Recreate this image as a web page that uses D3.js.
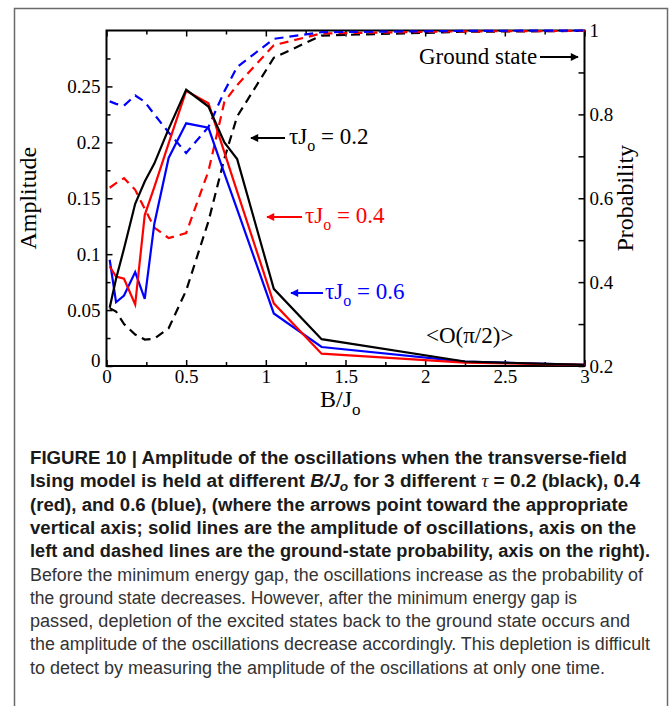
<!DOCTYPE html>
<head>
<meta charset="utf-8">
<title>Amplitude and ground state probability</title>
<script src="https://cdn.jsdelivr.net/npm/d3@7/dist/d3.min.js"></script>
<style>
  body { margin: 0; background: #fff; }
  svg { display: block; }
</style>
</head>
<body>
<div id="container"></div>
<script>

// B/Jo sample points shared by all series
const bField = [0.02, 0.06, 0.11, 0.18, 0.24, 0.3, 0.39, 0.5, 0.64, 0.74, 0.82, 1.05, 1.35, 2.25, 3];

// amplitude (left axis), solid lines
const ampTau02 = [0.052, 0.078, 0.105, 0.145, 0.165, 0.181, 0.212, 0.247, 0.232, 0.200, 0.185, 0.069, 0.024, 0.004, 0.001];
const ampTau04 = [0.089, 0.080, 0.078, 0.055, 0.135, 0.160, 0.199, 0.246, 0.235, 0.191, 0.156, 0.056, 0.011, 0.003, 0.001];
const ampTau06 = [0.095, 0.057, 0.063, 0.084, 0.060, 0.127, 0.186, 0.217, 0.213, 0.172, 0.140, 0.047, 0.017, 0.004, 0.001];

// ground state probability (right axis), dashed lines
const probTau02 = [0.338, 0.330, 0.300, 0.275, 0.263, 0.265, 0.290, 0.380, 0.545, 0.695, 0.795, 0.935, 0.988, 0.997, 0.999];
const probTau04 = [0.625, 0.636, 0.648, 0.620, 0.575, 0.530, 0.505, 0.517, 0.665, 0.830, 0.870, 0.965, 0.993, 0.998, 0.999];
const probTau06 = [0.831, 0.825, 0.821, 0.845, 0.830, 0.800, 0.757, 0.708, 0.770, 0.855, 0.913, 0.980, 0.996, 0.999, 1.000];

const xTicks = [0, 0.5, 1, 1.5, 2, 2.5, 3];
const ampTicks = [0, 0.05, 0.1, 0.15, 0.2, 0.25];
const probTicks = [0.2, 0.4, 0.6, 0.8, 1];

const captionBold = [
  "FIGURE 10 | Amplitude of the oscillations when the transverse-field",
  "Ising model is held at different B/Jo for 3 different τ = 0.2 (black), 0.4",
  "(red), and 0.6 (blue), (where the arrows point toward the appropriate",
  "vertical axis; solid lines are the amplitude of oscillations, axis on the",
  "left and dashed lines are the ground-state probability, axis on the right)."
];
const captionPlain = [
  "Before the minimum energy gap, the oscillations increase as the probability of",
  "the ground state decreases. However, after the minimum energy gap is",
  "passed, depletion of the excited states back to the ground state occurs and",
  "the amplitude of the oscillations decrease accordingly. This depletion is difficult",
  "to detect by measuring the amplitude of the oscillations at only one time."
];
// right ends of caption lines in the picture
const captionEnds = [627, 640, 628, 636, 650, 643, 577, 630, 650, 605];

function chart() {
  const width = 672, height = 706;
  const margin = {top: 30.5, right: 87.5, bottom: 340, left: 106.5};
  const serif = "'Liberation Serif', 'Times New Roman', serif";

  const svg = d3.select("#container").append("svg")
      .attr("width", width).attr("height", height);

  // frame round figure and caption
  svg.append("rect")
      .attr("x", 14.5).attr("y", 8.5).attr("width", 653).attr("height", 720)
      .attr("fill", "none").attr("stroke", "#6a6a6a").attr("stroke-width", 1.5);

  const x = d3.scaleLinear().domain([0, 3]).range([margin.left, width - margin.right]);
  const yAmp = d3.scaleLinear().domain([0, 0.3]).range([height - margin.bottom, margin.top]);
  const yProb = d3.scaleLinear().domain([0.2, 1]).range([height - margin.bottom, margin.top]);

  const styleAxis = g => g
    .call(g => g.select(".domain").remove())
    .call(g => g.selectAll(".tick line").attr("stroke", "#000").attr("stroke-width", 1.5))
    .call(g => g.selectAll(".tick text").attr("fill", "#000")
        .attr("font-family", serif).attr("font-size", 19));

  const bottom = height - margin.bottom, top = margin.top;
  const left = margin.left, right = width - margin.right;

  // bottom + top
  svg.append("g").attr("transform", `translate(0,${bottom})`)
    .call(d3.axisBottom(x).tickValues(xTicks).tickSize(-6).tickPadding(3).tickFormat(d3.format("")))
    .call(styleAxis);
  svg.append("g").attr("transform", `translate(0,${bottom})`)
    .call(d3.axisBottom(x).tickValues(d3.range(0.25, 3, 0.5)).tickSize(-4).tickFormat(""))
    .call(styleAxis);
  svg.append("g").attr("transform", `translate(0,${top})`)
    .call(d3.axisTop(x).tickValues(xTicks).tickSize(-6).tickFormat(""))
    .call(styleAxis);
  svg.append("g").attr("transform", `translate(0,${top})`)
    .call(d3.axisTop(x).tickValues(d3.range(0.25, 3, 0.5)).tickSize(-4).tickFormat(""))
    .call(styleAxis);

  // left
  svg.append("g").attr("transform", `translate(${left},0)`)
    .call(d3.axisLeft(yAmp).tickValues(ampTicks).tickSize(-6).tickPadding(6).tickFormat(d3.format("")))
    .call(styleAxis)
    .call(g => g.selectAll(".tick text").filter(d => d === 0).attr("dy", "0.05em"));
  svg.append("g").attr("transform", `translate(${left},0)`)
    .call(d3.axisLeft(yAmp).tickValues(d3.range(0.025, 0.3, 0.05)).tickSize(-4).tickFormat(""))
    .call(styleAxis);

  // right
  svg.append("g").attr("transform", `translate(${right},0)`)
    .call(d3.axisRight(yProb).tickValues(probTicks).tickSize(-6).tickPadding(5).tickFormat(d3.format("")))
    .call(styleAxis);
  svg.append("g").attr("transform", `translate(${right},0)`)
    .call(d3.axisRight(yProb).tickValues([0.3, 0.5, 0.7, 0.9]).tickSize(-6).tickFormat(""))
    .call(styleAxis);

  svg.append("rect")
      .attr("x", left).attr("y", top).attr("width", right - left).attr("height", bottom - top)
      .attr("fill", "none").attr("stroke", "#000").attr("stroke-width", 2);

  const series = [
    {vals: probTau02, y: yProb, color: "#000", dash: "9,6"},
    {vals: probTau04, y: yProb, color: "#f00", dash: "9,6"},
    {vals: probTau06, y: yProb, color: "#00f", dash: "9,6"},
    {vals: ampTau06, y: yAmp, color: "#00f", dash: null},
    {vals: ampTau04, y: yAmp, color: "#f00", dash: null},
    {vals: ampTau02, y: yAmp, color: "#000", dash: null}
  ];

  svg.append("g").attr("fill", "none")
    .selectAll("path").data(series).join("path")
      .attr("stroke", d => d.color)
      .attr("stroke-width", 2.2)
      .attr("stroke-dasharray", d => d.dash)
      .attr("d", d => d3.line().x((v, i) => x(bField[i])).y(v => d.y(v))(d.vals));

  // arrow heads
  const defs = svg.append("defs");
  [["black", "#000"], ["red", "#f00"], ["blue", "#00f"]].forEach(([id, c]) => {
    defs.append("marker").attr("id", "ah-" + id)
      .attr("viewBox", "0 0 10 10").attr("refX", 9).attr("refY", 5)
      .attr("markerWidth", 5).attr("markerHeight", 4).attr("orient", "auto")
      .append("path").attr("d", "M0,0L10,5L0,10z").attr("fill", c);
  });

  const note = (x1, x2, y, color, id) => svg.append("line")
      .attr("x1", x1).attr("x2", x2).attr("y1", y).attr("y2", y)
      .attr("stroke", color).attr("stroke-width", 2)
      .attr("marker-end", `url(#ah-${id})`);

  const tauLabel = (tx, ty, color, val) => {
    const t = svg.append("text").attr("x", tx).attr("y", ty)
      .attr("font-family", serif).attr("font-size", 23).attr("fill", color);
    t.append("tspan").text("τJ");
    t.append("tspan").attr("font-size", 16).attr("dy", 7).text("o");
    t.append("tspan").attr("dy", -7).text(" = " + val);
  };

  note(285, 251, 138, "#000", "black");
  tauLabel(289, 144, "#000", "0.2");
  note(302, 267, 217, "#f00", "red");
  tauLabel(305, 223, "#f00", "0.4");
  note(323, 291, 293, "#00f", "blue");
  tauLabel(325, 299, "#00f", "0.6");

  svg.append("text").attr("x", 419).attr("y", 64)
    .attr("font-family", serif).attr("font-size", 23).text("Ground state");
  note(540, 578, 57, "#000", "black");

  svg.append("text").attr("x", 426).attr("y", 343)
    .attr("font-family", serif).attr("font-size", 23).text("<O(π/2)>");

  // axis titles
  svg.append("text")
    .attr("transform", `translate(36,${(top + bottom) / 2}) rotate(-90)`)
    .attr("text-anchor", "middle")
    .attr("font-family", serif).attr("font-size", 24).text("Amplitude");
  svg.append("text")
    .attr("transform", `translate(633,${(top + bottom) / 2}) rotate(-90)`)
    .attr("text-anchor", "middle")
    .attr("font-family", serif).attr("font-size", 24).text("Probability");
  const xl = svg.append("text").attr("x", 320).attr("y", 407)
    .attr("font-family", serif).attr("font-size", 24);
  xl.append("tspan").text("B/J");
  xl.append("tspan").attr("font-size", 17).attr("dy", 8).text("o");

  // caption
  const cap = svg.append("g").attr("font-family", "'Liberation Sans', Arial, sans-serif");
  const lineY = i => 464 + i * 23.3;
  captionBold.forEach((s, i) => {
    const t = cap.append("text").attr("x", 30).attr("y", lineY(i))
      .attr("font-size", 18).attr("font-weight", "bold").attr("fill", "#1a1a1a")
      .attr("textLength", captionEnds[i] - 30).attr("lengthAdjust", "spacingAndGlyphs");
    if (i === 1) {
      const [a, rest] = s.split("B/Jo");
      const [b, c] = rest.split("τ");
      t.append("tspan").text(a);
      t.append("tspan").attr("font-style", "italic").text("B/J");
      t.append("tspan").attr("font-style", "italic").attr("font-size", 13).attr("dy", 4).text("o");
      t.append("tspan").attr("dy", -4).text(b);
      t.append("tspan").attr("font-family", "'Liberation Serif', serif").attr("font-style", "italic")
        .attr("font-weight", "normal").text("τ");
      t.append("tspan").text(c);
    } else {
      t.text(s);
    }
  });
  captionPlain.forEach((s, i) => {
    cap.append("text").attr("x", 30).attr("y", lineY(i + 5))
      .attr("font-size", 18).attr("fill", "#333")
      .attr("textLength", captionEnds[i + 5] - 30).attr("lengthAdjust", "spacingAndGlyphs")
      .text(s);
  });

  return svg.node();
}

chart();

</script>
</body>
